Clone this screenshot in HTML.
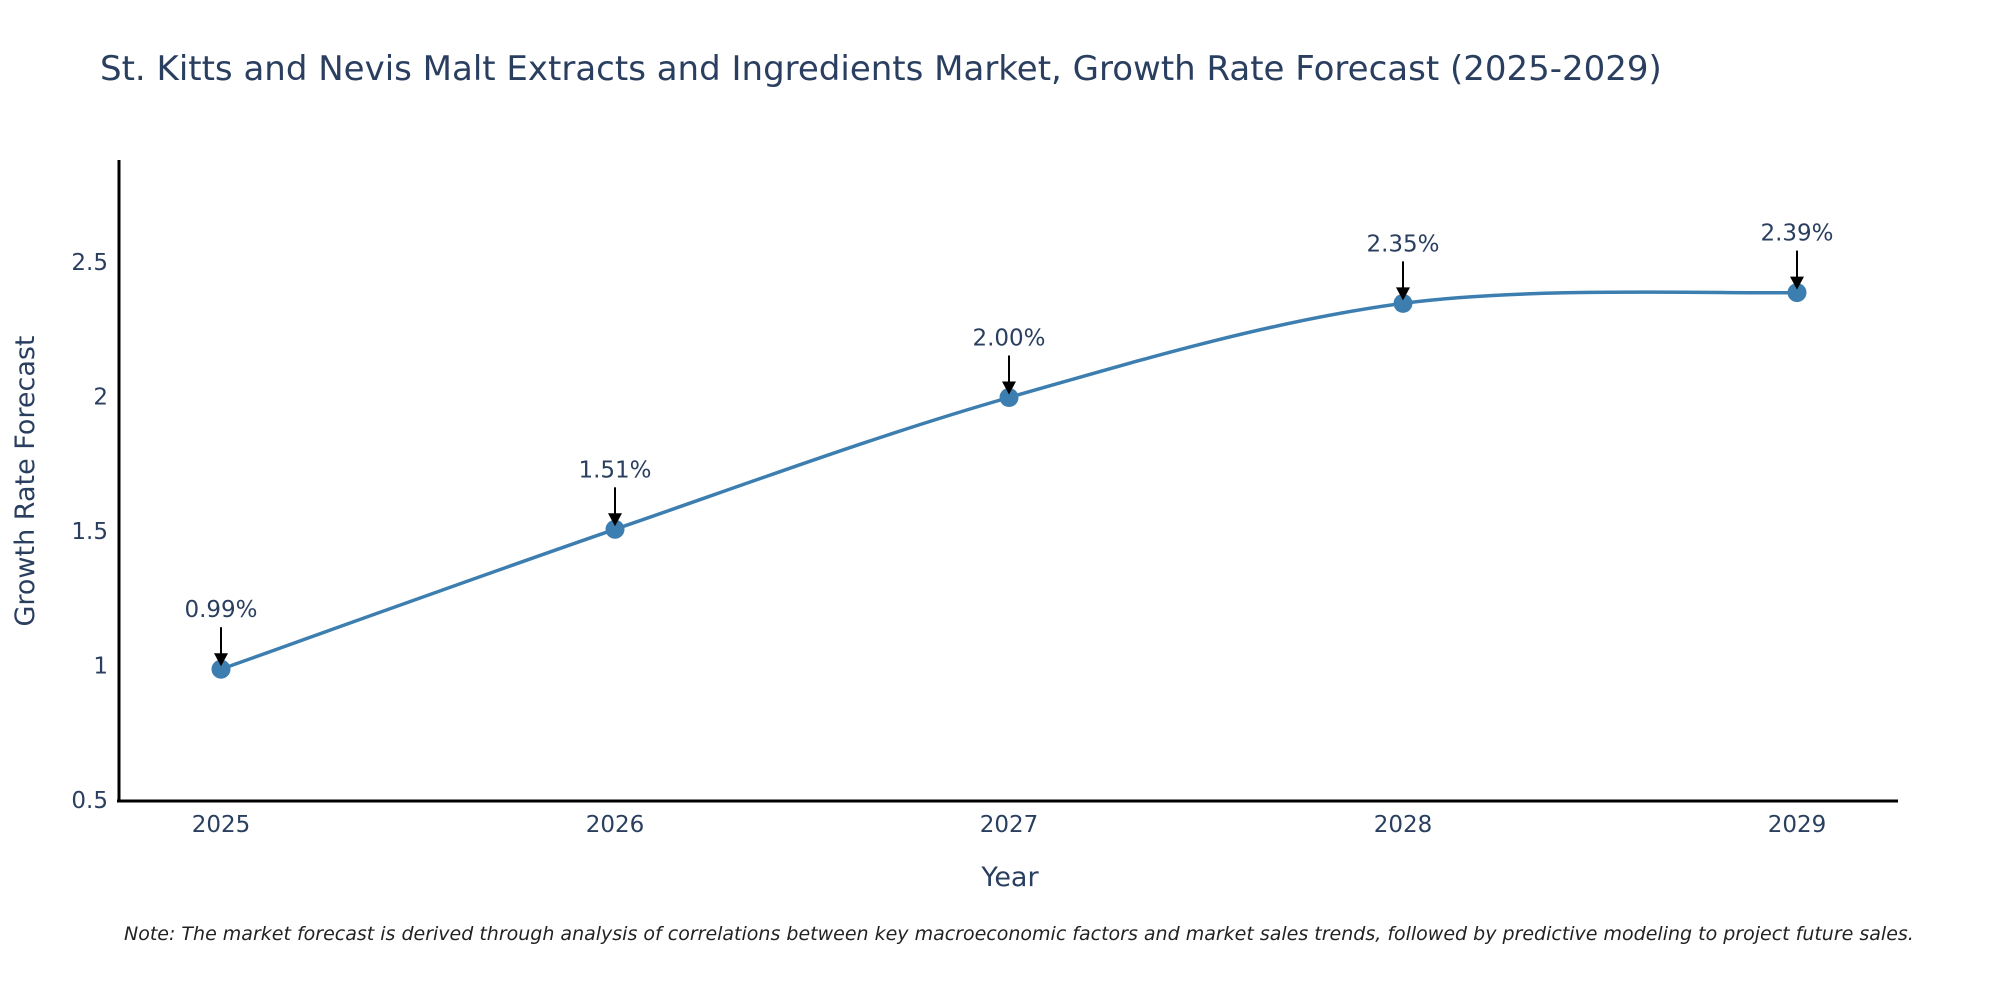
<!DOCTYPE html>
<html><head><meta charset="utf-8"><style>
html,body{margin:0;padding:0;background:#fff;}
svg{display:block;font-family:"DejaVu Sans","Liberation Sans",sans-serif;}
</style></head><body>
<svg id="chart" width="2000" height="1000" viewBox="0 0 2000 1000" xmlns="http://www.w3.org/2000/svg">
<rect width="2000" height="1000" fill="#fff"/>
<text x="100" y="80" font-size="34" fill="#2a3f5f">St. Kitts and Nevis Malt Extracts and Ingredients Market, Growth Rate Forecast (2025-2029)</text>
<g id="yticks"></g>
<g id="xticks"></g>
<line x1="119" y1="160" x2="119" y2="802" stroke="#000" stroke-width="3"/>
<line x1="117" y1="801" x2="1898" y2="801" stroke="#000" stroke-width="3"/>
<text transform="translate(34,481) rotate(-90)" text-anchor="middle" font-size="27" fill="#2a3f5f">Growth Rate Forecast</text>
<text x="1010" y="886" text-anchor="middle" font-size="27" fill="#2a3f5f">Year</text>
<g id="series"></g>
<g id="annos"></g>
<text x="124" y="940" font-size="19" font-style="italic" fill="#222">Note: The market forecast is derived through analysis of correlations between key macroeconomic factors and market sales trends, followed by predictive modeling to project future sales.</text>
</svg>
<script>
const years = [2025, 2026, 2027, 2028, 2029];
const values = [0.99, 1.51, 2.00, 2.35, 2.39];
const labels = ["0.99%", "1.51%", "2.00%", "2.35%", "2.39%"];
const yTicks = [0.5, 1, 1.5, 2, 2.5];
const yTickLabels = ["0.5", "1", "1.5", "2", "2.5"];

const NS = "http://www.w3.org/2000/svg";
function xs(v){ return 221 + (v - 2025) * 394; }
function ys(v){ return 801 - (v - 0.5) * 269; }
function mk(tag, attrs, parent){
  const e = document.createElementNS(NS, tag);
  for (const k in attrs) e.setAttribute(k, attrs[k]);
  parent.appendChild(e); return e;
}
const yg = document.getElementById('yticks');
yTicks.forEach((t, i) => {
  const e = mk('text', {x: 108, y: ys(t) + 7, 'text-anchor': 'end', 'font-size': 23, fill: '#2a3f5f'}, yg);
  
  
  e.textContent = yTickLabels[i];
});
const xg = document.getElementById('xticks');
years.forEach(y => {
  const e = mk('text', {x: xs(y), y: 832, 'text-anchor': 'middle', 'font-size': 23, fill: '#2a3f5f'}, xg);
  
  
  e.textContent = y;
});
const pts = years.map((y, i) => [xs(y), ys(values[i])]);
let d = 'M' + pts[0][0] + ',' + pts[0][1];
for (let i = 0; i < pts.length - 1; i++) {
  const p0 = pts[i - 1] || pts[i], p1 = pts[i], p2 = pts[i + 1], p3 = pts[i + 2] || p2;
  const t = 0.5 / 3;
  const c1 = [p1[0] + (p2[0] - p0[0]) * t, p1[1] + (p2[1] - p0[1]) * t];
  const c2 = [p2[0] - (p3[0] - p1[0]) * t, p2[1] - (p3[1] - p1[1]) * t];
  d += ' C' + c1 + ' ' + c2 + ' ' + p2;
}
const sg = document.getElementById('series');
const line = mk('path', {d: d, fill: 'none', stroke: '#3d7eb0', 'stroke-width': 3.5}, sg);


pts.forEach(p => {
  const c = mk('circle', {cx: p[0], cy: p[1], r: 9.5, fill: '#3d7eb0'}, sg);
  
  
});
const ag = document.getElementById('annos');
pts.forEach((p, i) => {
  const t = mk('text', {x: p[0], y: p[1] - 52, 'text-anchor': 'middle', 'font-size': 23, fill: '#2a3f5f'}, ag);
  
  
  t.textContent = labels[i];
  const l = mk('line', {x1: p[0], y1: p[1] - 42, x2: p[0], y2: p[1] - 14, stroke: '#000', 'stroke-width': 2}, ag);
  
  
  const h = mk('path', {d: `M${p[0]-7},${p[1]-16} L${p[0]+7},${p[1]-16} L${p[0]},${p[1]-3} Z`, fill: '#000'}, ag);
  
  
});
</script>
</body></html>
